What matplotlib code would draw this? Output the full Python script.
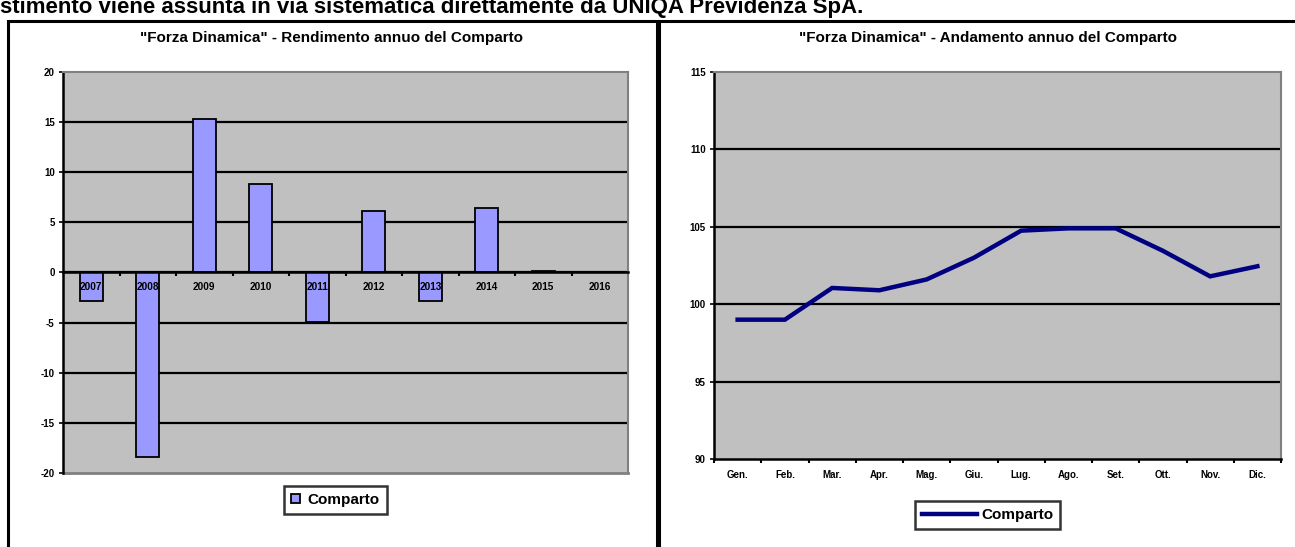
import matplotlib.pyplot as plt
from matplotlib.patches import Rectangle
from matplotlib.lines import Line2D

plt.rcParams['font.family'] = ['Liberation Sans', 'DejaVu Sans']
plt.rcParams['font.weight'] = 'bold'

# data
anni = ['2007', '2008', '2009', '2010', '2011', '2012', '2013', '2014', '2015', '2016']
rendimento = [-2.8, -18.4, 15.3, 8.8, -4.9, 6.1, -2.8, 6.4, 0.1, 0.05]
mesi = ['Gen.', 'Feb.', 'Mar.', 'Apr.', 'Mag.', 'Giu.', 'Lug.', 'Ago.', 'Set.', 'Ott.', 'Nov.', 'Dic.']
andamento = [99.0, 99.0, 101.05, 100.9, 101.6, 103.0, 104.75, 104.9, 104.9, 103.45, 101.8, 102.45]
y_bar = [-20, -15, -10, -5, 0, 5, 10, 15, 20]
y_line = [90, 95, 100, 105, 110, 115]

W, H = 1295, 547
fig = plt.figure(figsize=(W / 100, H / 100), dpi=100)


def px(x0, y0, x1, y1):
    # pixel box (top-left origin) -> figure fraction
    return [x0 / W, 1 - y1 / H, (x1 - x0) / W, (y1 - y0) / H]


# heading line, cut at the top edge as in the source page
fig.text(0, 1 - 13 / H, 'stimento viene assunta in via sistematica direttamente da UNIQA Previdenza SpA.',
         fontsize=16, fontweight='bold', ha='left', va='baseline')

# panel frames
for x0, x1 in [(8, 657), (659, 1300)]:
    fig.patches.append(Rectangle((x0 / W, -0.01), (x1 - x0) / W, 1 - 21 / H + 0.01,
                                 transform=fig.transFigure, fill=False, ec='black', lw=2.2))

GRAY = '#c0c0c0'
BAR = '#9999ff'
NAVY = '#000080'

# ---- left: bars ----
ax = fig.add_axes(px(63, 72, 628, 473))
ax.set_facecolor(GRAY)
ax.spines['bottom'].set_position(('data', 0))
x = range(len(anni))
for v in y_bar[1:-1]:
    ax.axhline(v, color='black', lw=1.6, zorder=0.5)
ax.bar(x, rendimento, width=0.4, color=BAR, edgecolor='black', lw=1.3, zorder=1)
ax.set_xlim(-0.5, len(anni) - 0.5)
ax.set_ylim(y_bar[0], y_bar[-1])
ax.set_yticks(y_bar)
ax.set_yticklabels([str(v) for v in y_bar], fontsize=7, fontweight='bold')
ax.set_xticks(list(x))
ax.set_xticklabels(anni, fontsize=7.2, fontweight='bold')
ax.set_xticks([i + 0.5 for i in range(len(anni) - 1)], minor=True)
ax.tick_params(axis='x', which='major', length=0, pad=7)
ax.tick_params(axis='x', which='minor', length=3, width=1.5, direction='out')
ax.tick_params(axis='y', length=3, width=1.2, pad=3)
ax.spines['bottom'].set_linewidth(1.8)
ax.spines['left'].set_linewidth(1.8)
for s in ['top', 'right']:
    ax.spines[s].set_color('#808080')
    ax.spines[s].set_linewidth(1.5)
ax.axhline(y_bar[0], color='#808080', lw=2, clip_on=False, zorder=2)
fig.text(331 / W, 1 - 38 / H, '"Forza Dinamica" - Rendimento annuo del Comparto', fontsize=11,
         fontweight='bold', ha='center', va='center')
h_bar = Rectangle((0, 0), 1, 1, fc=BAR, ec='black', lw=1.3)
leg = fig.legend([h_bar], ['Comparto'], loc='center', bbox_to_anchor=((283 + 388) / 2 / W, 1 - 500 / H),
                 prop={'size': 11, 'weight': 'bold'}, frameon=True, fancybox=False,
                 edgecolor='black', handlelength=0.6, handleheight=0.6, handletextpad=0.5,
                 borderpad=0.45)
leg.get_frame().set_linewidth(1.8)

# ---- right: line ----
ax2 = fig.add_axes(px(714, 72, 1281, 459))
ax2.set_facecolor(GRAY)
for v in y_line[1:-1]:
    ax2.axhline(v, color='black', lw=1.6, zorder=0.5)
ax2.plot(range(len(mesi)), andamento, color=NAVY, lw=3.2, zorder=2, solid_joinstyle='miter')
ax2.set_xlim(-0.5, len(mesi) - 0.5)
ax2.set_ylim(y_line[0], y_line[-1])
ax2.set_yticks(y_line)
ax2.set_yticklabels([str(v) for v in y_line], fontsize=7, fontweight='bold')
ax2.set_xticks(range(len(mesi)))
ax2.set_xticklabels(mesi, fontsize=7, fontweight='bold')
ax2.set_xticks([i - 0.5 for i in range(len(mesi) + 1)], minor=True)
ax2.tick_params(axis='x', which='major', length=0, pad=8)
ax2.tick_params(axis='x', which='minor', length=3, width=1.5, direction='out')
ax2.tick_params(axis='y', length=3, width=1.2, pad=3)
ax2.spines['bottom'].set_linewidth(1.8)
ax2.spines['left'].set_linewidth(1.8)
for s in ['top', 'right']:
    ax2.spines[s].set_color('#808080')
    ax2.spines[s].set_linewidth(1.5)
fig.text(988 / W, 1 - 38 / H, '"Forza Dinamica" - Andamento annuo del Comparto', fontsize=11,
         fontweight='bold', ha='center', va='center')
h_line = Line2D([], [], color=NAVY, lw=3.2)
leg2 = fig.legend([h_line], ['Comparto'], loc='center', bbox_to_anchor=((912 + 1063) / 2 / W, 1 - 515 / H),
                  prop={'size': 11, 'weight': 'bold'}, frameon=True, fancybox=False,
                  edgecolor='black', handlelength=3.6, handletextpad=0.3, borderpad=0.45)
leg2.get_frame().set_linewidth(1.8)

fig.savefig('out.png', dpi=100)
